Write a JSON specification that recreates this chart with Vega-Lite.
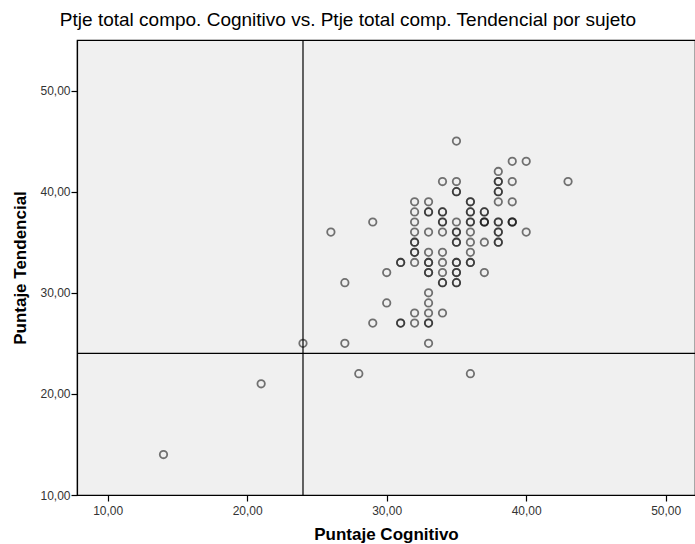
{
  "$schema": "https://vega.github.io/schema/vega-lite/v6.json",
  "width": 618,
  "height": 455,
  "autosize": "none",
  "padding": {"left": 77, "top": 40, "right": 0, "bottom": 49},
  "background": "white",
  "config": {
    "font": "Liberation Sans",
    "view": {"fill": "#f0f0f0", "stroke": "black", "strokeWidth": 1.2}
  },
  "title": {
    "text": "Ptje total compo. Cognitivo vs. Ptje total comp. Tendencial por sujeto",
    "font": "Liberation Sans",
    "fontSize": 19,
    "fontWeight": "normal",
    "color": "black",
    "anchor": "middle",
    "dx": -38,
    "offset": 9
  },
  "datasets": {
    "pts": [
      {"x": 14, "y": 14}, {"x": 21, "y": 21}, {"x": 24, "y": 25}, {"x": 27, "y": 25}, {"x": 33, "y": 25},
      {"x": 28, "y": 22}, {"x": 36, "y": 22},
      {"x": 29, "y": 27}, {"x": 31, "y": 27}, {"x": 31, "y": 27}, {"x": 32, "y": 27}, {"x": 33, "y": 27}, {"x": 33, "y": 27},
      {"x": 32, "y": 28}, {"x": 33, "y": 28}, {"x": 34, "y": 28},
      {"x": 30, "y": 29}, {"x": 33, "y": 29},
      {"x": 33, "y": 30},
      {"x": 27, "y": 31}, {"x": 34, "y": 31}, {"x": 34, "y": 31}, {"x": 35, "y": 31}, {"x": 35, "y": 31},
      {"x": 30, "y": 32}, {"x": 33, "y": 32}, {"x": 33, "y": 32}, {"x": 34, "y": 32}, {"x": 35, "y": 32}, {"x": 35, "y": 32}, {"x": 37, "y": 32},
      {"x": 31, "y": 33}, {"x": 31, "y": 33}, {"x": 32, "y": 33}, {"x": 33, "y": 33}, {"x": 33, "y": 33}, {"x": 34, "y": 33}, {"x": 35, "y": 33}, {"x": 35, "y": 33}, {"x": 36, "y": 33}, {"x": 36, "y": 33},
      {"x": 32, "y": 34}, {"x": 32, "y": 34}, {"x": 33, "y": 34}, {"x": 34, "y": 34}, {"x": 36, "y": 34},
      {"x": 32, "y": 35}, {"x": 32, "y": 35}, {"x": 35, "y": 35}, {"x": 35, "y": 35}, {"x": 36, "y": 35}, {"x": 37, "y": 35}, {"x": 38, "y": 35}, {"x": 38, "y": 35},
      {"x": 26, "y": 36}, {"x": 32, "y": 36}, {"x": 33, "y": 36}, {"x": 34, "y": 36}, {"x": 35, "y": 36}, {"x": 35, "y": 36}, {"x": 36, "y": 36}, {"x": 38, "y": 36}, {"x": 38, "y": 36}, {"x": 40, "y": 36},
      {"x": 29, "y": 37}, {"x": 32, "y": 37}, {"x": 34, "y": 37}, {"x": 34, "y": 37}, {"x": 35, "y": 37}, {"x": 36, "y": 37}, {"x": 36, "y": 37}, {"x": 37, "y": 37}, {"x": 37, "y": 37}, {"x": 37, "y": 37}, {"x": 38, "y": 37}, {"x": 38, "y": 37}, {"x": 39, "y": 37}, {"x": 39, "y": 37}, {"x": 39, "y": 37},
      {"x": 32, "y": 38}, {"x": 33, "y": 38}, {"x": 33, "y": 38}, {"x": 34, "y": 38}, {"x": 34, "y": 38}, {"x": 36, "y": 38}, {"x": 36, "y": 38}, {"x": 37, "y": 38}, {"x": 37, "y": 38},
      {"x": 32, "y": 39}, {"x": 33, "y": 39}, {"x": 36, "y": 39}, {"x": 36, "y": 39}, {"x": 38, "y": 39}, {"x": 39, "y": 39},
      {"x": 35, "y": 40}, {"x": 35, "y": 40}, {"x": 38, "y": 40}, {"x": 38, "y": 40},
      {"x": 34, "y": 41}, {"x": 35, "y": 41}, {"x": 38, "y": 41}, {"x": 38, "y": 41}, {"x": 39, "y": 41}, {"x": 43, "y": 41},
      {"x": 38, "y": 42},
      {"x": 39, "y": 43}, {"x": 40, "y": 43},
      {"x": 35, "y": 45}
    ],
    "refs": [{"v": 24}]
  },
  "layer": [
    {
      "data": {"name": "pts"},
      "mark": {"type": "point", "shape": "circle", "filled": false, "size": 55, "stroke": "#1a1a1a", "strokeOpacity": 0.85, "strokeWidth": 1.8},
      "encoding": {
        "x": {
          "field": "x", "type": "quantitative",
          "scale": {"domain": [7.8, 52.1], "nice": false, "zero": false},
          "axis": {
            "title": "Puntaje Cognitivo", "values": [10, 20, 30, 40, 50], "format": ".2f",
            "labelExpr": "replace(datum.label, '.', ',')",
            "grid": false, "domainColor": "black", "domainWidth": 1.2, "tickColor": "black", "tickSize": 6, "tickWidth": 1.2,
            "labelFont": "Liberation Sans", "labelFontSize": 12, "labelColor": "#333", "labelPadding": 4,
            "titleFont": "Liberation Sans", "titleFontSize": 17, "titleFontWeight": "bold", "titleColor": "black", "titlePadding": 10
          }
        },
        "y": {
          "field": "y", "type": "quantitative",
          "scale": {"domain": [10, 55], "nice": false, "zero": false},
          "axis": {
            "title": "Puntaje Tendencial", "values": [10, 20, 30, 40, 50], "format": ".2f",
            "labelExpr": "replace(datum.label, '.', ',')",
            "grid": false, "domainColor": "black", "domainWidth": 1.2, "tickColor": "black", "tickSize": 6, "tickWidth": 1.2,
            "labelFont": "Liberation Sans", "labelFontSize": 12, "labelColor": "#333", "labelPadding": 1,
            "titleFont": "Liberation Sans", "titleFontSize": 17, "titleFontWeight": "bold", "titleColor": "black", "titlePadding": 10
          }
        }
      }
    },
    {
      "data": {"name": "refs"},
      "mark": {"type": "rule", "color": "black", "strokeWidth": 1.2},
      "encoding": {"x": {"field": "v", "type": "quantitative"}}
    },
    {
      "data": {"name": "refs"},
      "mark": {"type": "rule", "color": "black", "strokeWidth": 1.2},
      "encoding": {"y": {"field": "v", "type": "quantitative"}}
    }
  ]
}
